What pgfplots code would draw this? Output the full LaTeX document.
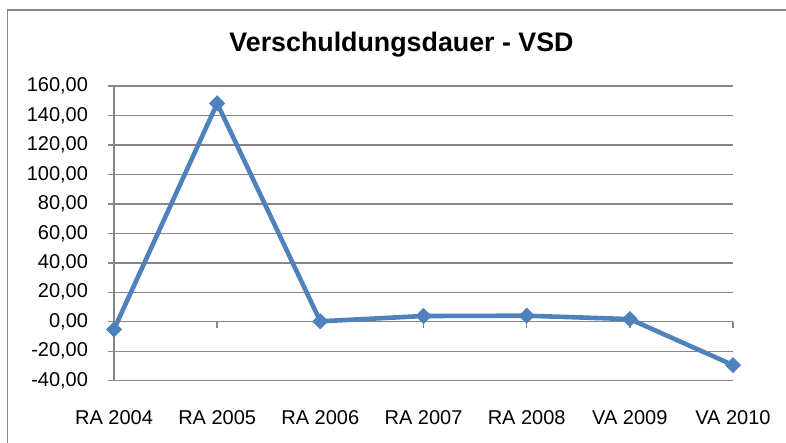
\documentclass[border=0pt]{standalone}
\usepackage{fontspec}
\setmainfont{Liberation Sans}
\usepackage{pgfplots}
\pgfplotsset{compat=1.18}
\definecolor{xlblue}{RGB}{79,129,189}
\definecolor{axgray}{RGB}{134,134,134}
\begin{document}
\begin{tikzpicture}
\path[use as bounding box] (0pt,0pt) rectangle (393pt,221.5pt);
\draw[axgray, line width=0.75pt] (3.7pt,0pt) -- (3.7pt,216.5pt) -- (393pt,216.5pt);
\node[anchor=base, font=\fontsize{13.4}{15}\selectfont\bfseries] at (200.75pt,195.5pt) {Verschuldungsdauer - VSD};
\begin{axis}[
  at={(57pt,31.15pt)}, anchor=south west,
  scale only axis, width=309.5pt, height=147.35pt,
  xmin=0, xmax=6, ymin=-40, ymax=160,
  axis y line*=left, axis x line*=bottom,
  axis line style={axgray, line width=0.7pt},
  ymajorgrids, grid style={axgray, line width=0.7pt},
  ytick={-40,-20,0,20,40,60,80,100,120,140,160},
  yticklabels={{-40,00},{-20,00},{0,00},{20,00},{40,00},{60,00},{80,00},{100,00},{120,00},{140,00},{160,00}},
  xtick={0,1,2,3,4,5,6},
  xticklabels={RA 2004,RA 2005,RA 2006,RA 2007,RA 2008,VA 2009,VA 2010},
  tick align=outside, major tick length=3pt,
  ytick style={axgray, line width=0.7pt},
  xtick style={draw=none},
  tick label style={font=\fontsize{10}{12}\selectfont, text=black},
  yticklabel style={anchor=east, inner sep=0pt, xshift=-9.8pt},
  xticklabel style={anchor=base, inner sep=0pt, yshift=-19pt},
  clip=false,
]
\draw[axgray, line width=0.7pt] (axis cs:0,0) -- (axis cs:6,0);
\draw[axgray, line width=0.7pt] (axis cs:1,0) -- ++(0pt,-3pt);
\draw[axgray, line width=0.7pt] (axis cs:2,0) -- ++(0pt,-3pt);
\draw[axgray, line width=0.7pt] (axis cs:3,0) -- ++(0pt,-3pt);
\draw[axgray, line width=0.7pt] (axis cs:4,0) -- ++(0pt,-3pt);
\draw[axgray, line width=0.7pt] (axis cs:5,0) -- ++(0pt,-3pt);
\draw[axgray, line width=0.7pt] (axis cs:6,0) -- ++(0pt,-3pt);
\addplot[xlblue, line width=2.3pt, mark=square*, mark size=2.6pt, mark options={solid, rotate=45, fill=xlblue, line width=0.5pt}]
coordinates {(0,-5.2) (1,148.2) (2,0.3) (3,3.9) (4,4.1) (5,1.8) (6,-29.4)};
\end{axis}
\end{tikzpicture}
\end{document}
